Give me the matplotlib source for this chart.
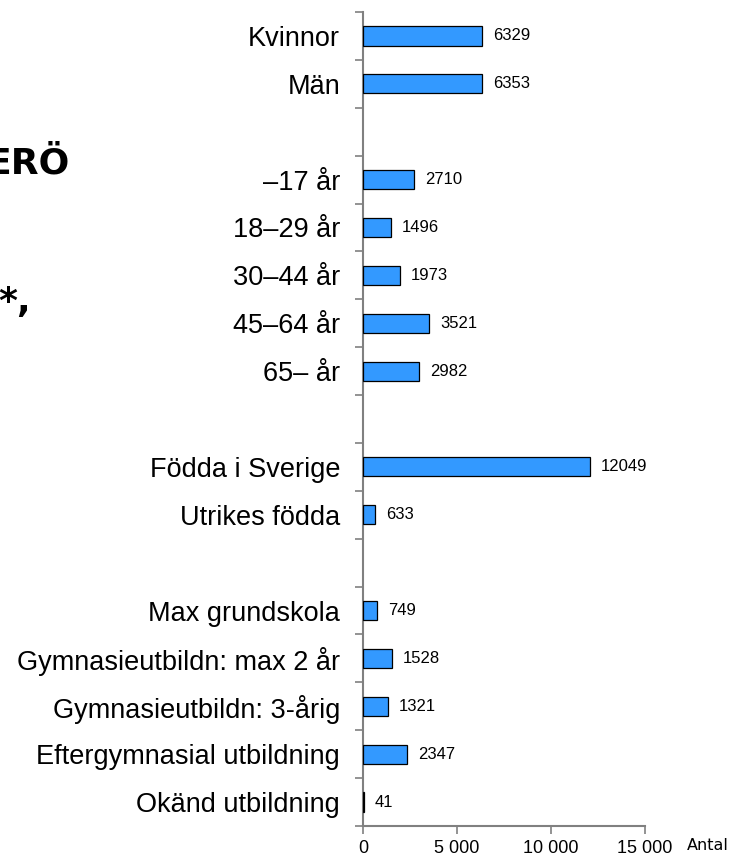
import matplotlib
matplotlib.use("Agg")
import matplotlib.pyplot as plt
import numpy as np

plt.rcParams['font.family'] = ['Liberation Sans', 'DejaVu Sans']

# grupper uppifrån och ned, tom rad mellan grupperna
kon = ['Kvinnor', 'Män']
kon_antal = [6329, 6353]
alder = ['–17 år', '18–29 år', '30–44 år', '45–64 år', '65– år']
alder_antal = [2710, 1496, 1973, 3521, 2982]
fodelse = ['Födda i Sverige', 'Utrikes födda']
fodelse_antal = [12049, 633]
utbildning = ['Max grundskola', 'Gymnasieutbildn: max 2 år', 'Gymnasieutbildn: 3-årig',
              'Eftergymnasial utbildning', 'Okänd utbildning']
utbildning_antal = [749, 1528, 1321, 2347, 41]

groups = [(kon, kon_antal), (alder, alder_antal), (fodelse, fodelse_antal),
          (utbildning, utbildning_antal)]

labels, values, pos = [], [], []
slot = 0
for names, vals in groups:
    for n, v in zip(names, vals):
        labels.append(n)
        values.append(v)
        pos.append(slot)
        slot += 1
    slot += 1
nslots = slot - 1

W, H = 736, 858
fig = plt.figure(figsize=(W / 100, H / 100), dpi=100)
ax = fig.add_axes([363 / W, 1 - 826 / H, 282 / W, 814 / H])

grey = '#808080'
ax.barh(pos, values, height=0.4, color='#3399FF', edgecolor='black', linewidth=0.9, zorder=3)
for p, v in zip(pos, values):
    ax.annotate(str(v), (v, p), xytext=(8, 0), textcoords='offset points',
                ha='left', va='center', fontsize=12)

ax.set_xlim(0, 15000)
ax.set_ylim(nslots - 0.5, -0.5)
ax.set_xticks([0, 5000, 10000, 15000])
ax.set_xticklabels(['0', '5 000', '10 000', '15 000'], fontsize=13)
ax.set_yticks(np.arange(-0.5, nslots, 1.0))
ax.set_yticklabels([])
ax.set_yticks(pos, minor=True)
ax.set_yticklabels(labels, minor=True, fontsize=19.5)
ax.tick_params(axis='y', which='minor', length=0, pad=16.5)
ax.tick_params(axis='both', which='major', length=5.8, width=1.2, color=grey)
ax.tick_params(axis='x', pad=4)

for s in ['top', 'right']:
    ax.spines[s].set_visible(False)
for s in ['left', 'bottom']:
    ax.spines[s].set_color(grey)
    ax.spines[s].set_linewidth(1.5)

fig.text(687 / W, 1 - 846 / H, 'Antal', family='DejaVu Sans', fontsize=11.5,
         ha='left', va='center')

# avklippt rubriktext till vänster
fig.text(70 / W, 1 - 173 / H, 'ERÖ', family='DejaVu Sans', fontweight='bold',
         fontsize=26, ha='right', va='baseline')
fig.text(-2 / W, 1 - 312 / H, '*,', family='DejaVu Sans', fontweight='bold',
         fontsize=26, ha='left', va='baseline')

fig.savefig('out.png', dpi=100)
